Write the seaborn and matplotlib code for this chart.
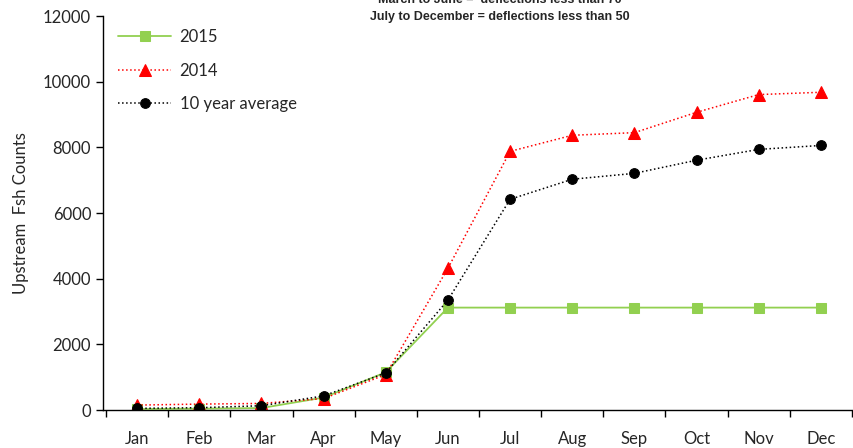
import numpy as np
import pandas as pd
import seaborn as sns
import matplotlib.pyplot as plt

# Monthly data
months = ['Jan', 'Feb', 'Mar', 'Apr', 'May', 'Jun', 'Jul', 'Aug', 'Sep', 'Oct', 'Nov', 'Dec']
counts_2015 = [30, 40, 60, 380, 1150, 3120, 3120, 3120, 3120, 3120, 3120, 3120]
counts_2014 = [150, 180, 200, 350, 1080, 4320, 7880, 8370, 8450, 9070, 9610, 9680]
counts_avg = [50, 70, 130, 430, 1130, 3350, 6420, 7030, 7210, 7610, 7940, 8060]

sns.set_style("white")
plt.rcParams['font.family'] = ['Lato', 'DejaVu Sans']

fig = plt.figure(figsize=(8.54, 4.48), dpi=100)
ax = fig.add_axes([0.1206, 0.0848, 0.877, 0.8792])

x = np.arange(len(months))
sns.lineplot(x=x, y=counts_2015, ax=ax, color='#92D050', linestyle='-', linewidth=1.3,
             marker='s', markersize=7, markeredgecolor='#92D050', label='2015')
sns.lineplot(x=x, y=counts_2014, ax=ax, color='#FF0000', linestyle=':', linewidth=1.1,
             marker='^', markersize=8, markeredgecolor='#FF0000', label='2014')
sns.lineplot(x=x, y=counts_avg, ax=ax, color='black', linestyle=':', linewidth=1.1,
             marker='o', markersize=7, markeredgecolor='black', label='10 year average')

ax.set_xlim(-0.55, 11.48)
ax.set_ylim(0, 12000)
ax.set_yticks(range(0, 12001, 2000))
ax.set_xticks(x)
ax.set_xticklabels(months)
ax.set_xticks(np.arange(-0.5, 11.6, 1), minor=True)
ax.tick_params(axis='x', which='major', length=0, pad=15, labelsize=12)
ax.tick_params(axis='x', which='minor', length=5, width=1, direction='out', color='black', bottom=True)
ax.tick_params(axis='y', length=5, width=1, direction='out', color='black', left=True, labelsize=12)
ax.set_ylabel('Upstream  Fsh Counts', fontsize=12, labelpad=10)

for side in ['top', 'right']:
    ax.spines[side].set_visible(False)
for side in ['left', 'bottom']:
    ax.spines[side].set_color('black')
    ax.spines[side].set_linewidth(1)

ax.legend(loc='upper left', bbox_to_anchor=(0.0, 1.005), frameon=False, fontsize=12,
          handlelength=3.2, labelspacing=1.05, handletextpad=0.5)

fig.text(0.585, 1.0, 'March to June =  deflections less than 70', ha='center', va='center',
         fontsize=9, fontweight='bold', family=['Liberation Sans', 'DejaVu Sans'])
fig.text(0.585, 0.962, 'July to December = deflections less than 50', ha='center', va='center',
         fontsize=9, fontweight='bold', family=['Liberation Sans', 'DejaVu Sans'])

fig.savefig('out.png', dpi=100)
